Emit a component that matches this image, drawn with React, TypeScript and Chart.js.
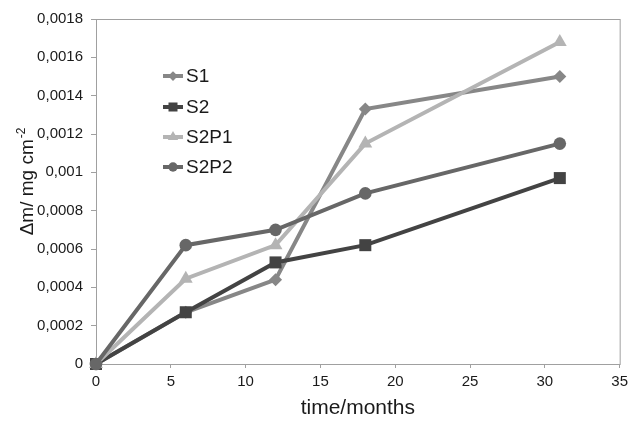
import React, { useEffect, useRef } from "react";
import { Chart, registerables } from "chart.js";

Chart.register(...registerables);

const months = [0, 6, 12, 18, 31];
const s1 = [0, 0.00027, 0.00044, 0.00133, 0.0015];
const s2 = [0, 0.00027, 0.00053, 0.00062, 0.00097];
const s2p1 = [0, 0.000445, 0.00062, 0.00115, 0.00168];
const s2p2 = [0, 0.00062, 0.0007, 0.00089, 0.00115];
const seriesNames = ["S1", "S2", "S2P1", "S2P2"];
const xTickValues = [0, 5, 10, 15, 20, 25, 30, 35];
const yTickValues = [0, 0.0002, 0.0004, 0.0006, 0.0008, 0.001, 0.0012, 0.0014, 0.0016, 0.0018];
const xTitle = "time/months";
const yTitleMain = "Δm/ mg cm";
const yTitleSup = "-2";

const colors = ["#878787", "#434343", "#b4b4b4", "#676767"];
const styles = ["rectRot", "rect", "triangle", "circle"];
const radii = [6.5, 8.5, 8, 6.3];

function fmt(v: number) {
  if (v === 0) return "0";
  return String(+v.toFixed(4)).replace(".", ",");
}

function drawMarker(ctx: CanvasRenderingContext2D, style: string, x: number, y: number, r: number) {
  ctx.beginPath();
  if (style === "circle") {
    ctx.arc(x, y, r, 0, Math.PI * 2);
  } else if (style === "rect") {
    const s = r * Math.SQRT1_2;
    ctx.rect(x - s, y - s, 2 * s, 2 * s);
  } else if (style === "rectRot") {
    ctx.moveTo(x, y - r);
    ctx.lineTo(x + r, y);
    ctx.lineTo(x, y + r);
    ctx.lineTo(x - r, y);
    ctx.closePath();
  } else if (style === "triangle") {
    ctx.moveTo(x, y - r);
    ctx.lineTo(x + r * 0.866, y + r * 0.5);
    ctx.lineTo(x - r * 0.866, y + r * 0.5);
    ctx.closePath();
  }
  ctx.fill();
}

const FONT = "'Liberation Sans', Arial, sans-serif";

const extrasPlugin = {
  id: "extras",
  beforeDatasetsDraw(chart: any) {
    const { ctx, chartArea } = chart;
    ctx.save();
    ctx.strokeStyle = "#a0a0a0";
    ctx.lineWidth = 1;
    ctx.strokeRect(chartArea.left + 0.5, chartArea.top + 0.5, chartArea.right - chartArea.left, chartArea.bottom - chartArea.top);
    ctx.restore();
  },
  afterDraw(chart: any) {
    const { ctx } = chart;
    ctx.save();
    ctx.fillStyle = "#1a1a1a";
    ctx.translate(33, 182);
    ctx.rotate(-Math.PI / 2);
    ctx.font = `19px ${FONT}`;
    const w1 = ctx.measureText(yTitleMain).width;
    ctx.font = `12px ${FONT}`;
    const w2 = ctx.measureText(yTitleSup).width;
    const start = -(w1 + w2) / 2;
    ctx.textBaseline = "alphabetic";
    ctx.textAlign = "left";
    ctx.font = `19px ${FONT}`;
    ctx.fillText(yTitleMain, start, 0);
    ctx.font = `12px ${FONT}`;
    ctx.fillText(yTitleSup, start + w1 + 1, -8);
    ctx.restore();

    ctx.save();
    const lx0 = 163, lx1 = 183, tx = 186;
    const ys = [76, 107, 137, 167];
    ctx.font = `19px ${FONT}`;
    ctx.textBaseline = "middle";
    ctx.textAlign = "left";
    seriesNames.forEach((name, i) => {
      const y = ys[i];
      ctx.strokeStyle = colors[i];
      ctx.fillStyle = colors[i];
      ctx.lineWidth = 4;
      ctx.beginPath();
      ctx.moveTo(lx0, y);
      ctx.lineTo(lx1, y);
      ctx.stroke();
      drawMarker(ctx, styles[i], (lx0 + lx1) / 2, y, radii[i] * 0.75);
      ctx.fillStyle = "#1a1a1a";
      ctx.fillText(name, tx, y + 1);
    });
    ctx.restore();
  },
};

export default function App() {
  const ref = useRef<HTMLCanvasElement>(null);
  useEffect(() => {
    if (!ref.current) return;
    const all = [s1, s2, s2p1, s2p2];
    const chart = new Chart(ref.current, {
      type: "line",
      data: {
        datasets: all.map((vals, i) => ({
          label: seriesNames[i],
          data: months.map((m, j) => ({ x: m, y: vals[j] })),
          borderColor: colors[i],
          backgroundColor: colors[i],
          borderWidth: 4,
          pointStyle: styles[i] as any,
          pointRadius: radii[i],
          pointBorderWidth: 0,
          pointBackgroundColor: colors[i],
          tension: 0,
          clip: false as any,
          order: 4 - i,
        })),
      },
      options: {
        animation: false,
        responsive: true,
        maintainAspectRatio: false,
        layout: { padding: { top: 19, right: 12, left: 0, bottom: 0 } },
        plugins: { legend: { display: false }, tooltip: { enabled: false } },
        scales: {
          x: {
            type: "linear",
            min: 0,
            max: 35,
            afterBuildTicks: (s: any) => { s.ticks = xTickValues.map((v) => ({ value: v })); },
            afterFit: (s: any) => { s.height = 57; },
            ticks: { color: "#1a1a1a", font: { size: 15, family: FONT }, padding: 5, maxRotation: 0 },
            grid: { drawOnChartArea: false, drawTicks: true, tickLength: 4, color: "#a0a0a0" },
            border: { display: true, color: "#a0a0a0" },
            title: { display: true, text: xTitle, color: "#1a1a1a", font: { size: 21, family: FONT }, padding: 0 },
          },
          y: {
            type: "linear",
            min: 0,
            max: 0.0018,
            afterBuildTicks: (s: any) => { s.ticks = yTickValues.map((v) => ({ value: v })); },
            afterFit: (s: any) => { s.width = 96; },
            ticks: { color: "#1a1a1a", font: { size: 15, family: FONT }, padding: 8, callback: (v: any) => fmt(Number(v)) },
            grid: { drawOnChartArea: false, drawTicks: true, tickLength: 5, color: "#a0a0a0" },
            border: { display: true, color: "#a0a0a0" },
          },
        },
      },
      plugins: [extrasPlugin],
    });
    return () => chart.destroy();
  }, []);
  return (
    <div style={{ position: "absolute", left: 0, top: 0, width: 633, height: 421, background: "#fff" }}>
      <canvas ref={ref} />
    </div>
  );
}
